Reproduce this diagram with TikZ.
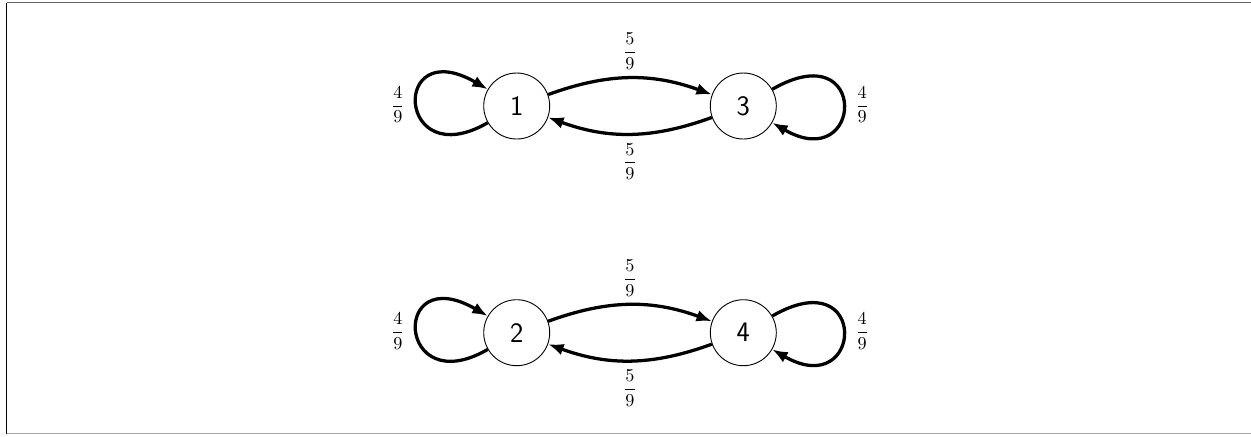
\documentclass[tikz,border=0pt]{standalone}
\usepackage{amsmath}
\usetikzlibrary{arrows.meta}
\begin{document}
\begin{tikzpicture}[x=0.55pt,y=-0.55pt,
  state/.style={circle,draw,line width=0.5pt,minimum size=36.3pt,inner sep=0pt,
    font=\fontsize{15.5}{18}\selectfont\sffamily},
  arr/.style={line width=1.8pt,-{Latex[length=8.5pt,width=6.5pt]}},
  lab/.style={inner sep=3.33pt}]
\useasboundingbox (0,0) rectangle (1251,436);
% frame
\draw[line width=0.8pt,black!60] (6.5,2.5) -- (1251,2.5);
\draw[line width=0.8pt,black] (6.5,2.5) -- (6.5,433.5);
\draw[line width=0.8pt,black!35] (6.5,433.5) -- (1251,433.5);
% nodes
\node[state] (n1) at (516.7,106) {1};
\node[state] (n3) at (743.3,106) {3};
\node[state] (n2) at (516.7,332.7) {2};
\node[state] (n4) at (743.3,332.7) {4};
% top pair
\draw[arr] (n1) to[bend left=20] node[lab,above=0.5pt] {$\dfrac{5}{9}$} (n3);
\draw[arr] (n3) to[bend left=20] node[lab,below=1pt] {$\dfrac{5}{9}$} (n1);
\draw[arr] (n1.210) .. controls +(210:58pt) and +(150:62pt) .. node[lab,left=2.5pt] {$\dfrac{4}{9}$} (n1.150);
\draw[arr] (n3.30) .. controls +(30:62pt) and +(-30:58pt) .. node[lab,right=2.5pt] {$\dfrac{4}{9}$} (n3.-30);
% bottom pair
\draw[arr] (n2) to[bend left=20] node[lab,above=0.5pt] {$\dfrac{5}{9}$} (n4);
\draw[arr] (n4) to[bend left=20] node[lab,below=1pt] {$\dfrac{5}{9}$} (n2);
\draw[arr] (n2.210) .. controls +(210:58pt) and +(150:62pt) .. node[lab,left=2.5pt] {$\dfrac{4}{9}$} (n2.150);
\draw[arr] (n4.30) .. controls +(30:62pt) and +(-30:58pt) .. node[lab,right=2.5pt] {$\dfrac{4}{9}$} (n4.-30);
\end{tikzpicture}
\end{document}
